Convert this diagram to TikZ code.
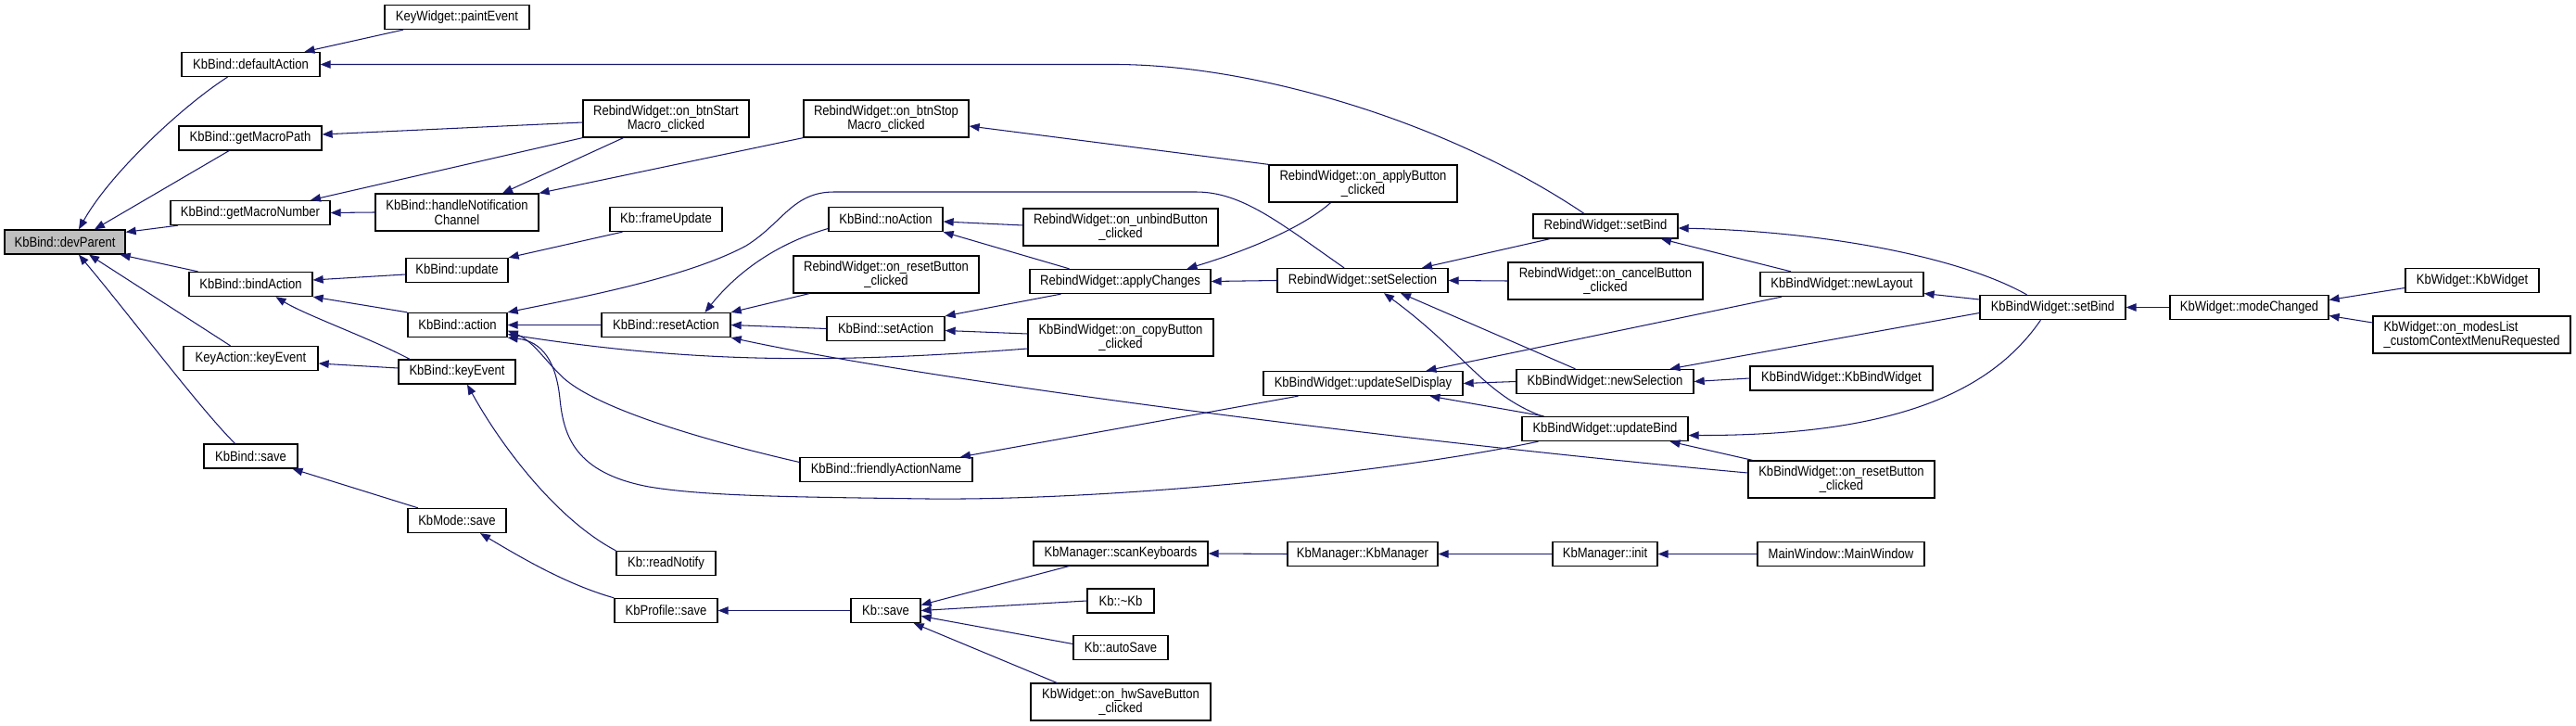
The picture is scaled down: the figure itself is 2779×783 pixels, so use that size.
\documentclass[tikz,border=0pt]{standalone}
\usepackage{fontspec}
\newfontfamily\nodefont{Liberation Sans}[FakeStretch=0.87]
\usetikzlibrary{arrows.meta}
\definecolor{edgeblue}{HTML}{191970}
\definecolor{focusgray}{HTML}{BFBFBF}
\tikzset{
  box/.style={draw=black, line width=1.3pt, fill=white, inner sep=0pt, align=center,
    minimum height=26pt, font={\nodefont\fontsize{15}{15.3}\selectfont}},
  dbl/.style={minimum height=40pt},
  conn/.style={draw=edgeblue, line width=1.05pt, -{Triangle[length=11pt,width=8.5pt]}, edgeblue},
}
\begin{document}
\begin{tikzpicture}[x=1pt,y=-1pt]
\useasboundingbox (0,0) rectangle (2779,783);
% column 1
\node[box, fill=focusgray, minimum width=130] (dp) at (70,261) {KbBind::devParent};
% column 2
\node[box, minimum width=149] (da) at (270.5,69.5) {KbBind::defaultAction};
\node[box, minimum width=154] (gmp) at (270,149) {KbBind::getMacroPath};
\node[box, minimum width=172] (gmn) at (270,229.5) {KbBind::getMacroNumber};
\node[box, minimum width=133] (ba) at (270.5,306.5) {KbBind::bindAction};
\node[box, minimum width=145] (kake) at (270.5,386.5) {KeyAction::keyEvent};
\node[box, minimum width=101] (kbs) at (270.5,492) {KbBind::save};
% column 3
\node[box, minimum width=156] (pe) at (493,18.5) {KeyWidget::paintEvent};
\node[box, dbl, minimum width=176] (hnc) at (493,229) {KbBind::handleNotification\\Channel};
\node[box, minimum width=110] (upd) at (493,291.5) {KbBind::update};
\node[box, minimum width=107] (act) at (493.5,350.5) {KbBind::action};
\node[box, minimum width=126] (kbke) at (493,401) {KbBind::keyEvent};
\node[box, minimum width=106] (kms) at (493,561.5) {KbMode::save};
% column 4
\node[box, dbl, minimum width=179] (bsm) at (718.5,128) {RebindWidget::on\_btnStart\\Macro\_clicked};
\node[box, minimum width=121] (fu) at (718.5,236.5) {Kb::frameUpdate};
\node[box, minimum width=139] (ra) at (718.5,350.5) {KbBind::resetAction};
\node[box, minimum width=107] (rn) at (718.5,607.5) {Kb::readNotify};
\node[box, minimum width=111] (kps) at (718.5,658.5) {KbProfile::save};
% column 5
\node[box, dbl, minimum width=178] (bst) at (956,128) {RebindWidget::on\_btnStop\\Macro\_clicked};
\node[box, minimum width=123] (na) at (955.5,236.5) {KbBind::noAction};
\node[box, dbl, minimum width=200] (rrb) at (956,296) {RebindWidget::on\_resetButton\\\_clicked};
\node[box, minimum width=127] (sa) at (955.5,354.5) {KbBind::setAction};
\node[box, minimum width=186] (fan) at (956,506.5) {KbBind::friendlyActionName};
\node[box, minimum width=75] (ks) at (955.5,658.5) {Kb::save};
% column 6
\node[box, dbl, minimum width=210] (ub) at (1209,245) {RebindWidget::on\_unbindButton\\\_clicked};
\node[box, minimum width=195] (ac) at (1208.5,303.5) {RebindWidget::applyChanges};
\node[box, dbl, minimum width=200] (cb) at (1209,364) {KbBindWidget::on\_copyButton\\\_clicked};
\node[box, minimum width=188] (sk) at (1209,597) {KbManager::scanKeyboards};
\node[box, minimum width=72] (kdk) at (1209,648) {Kb::\textasciitilde Kb};
\node[box, minimum width=102] (as) at (1209,698.5) {Kb::autoSave};
\node[box, dbl, minimum width=194] (hw) at (1209,757) {KbWidget::on\_hwSaveButton\\\_clicked};
% column 7
\node[box, dbl, minimum width=203] (ap) at (1470.5,198) {RebindWidget::on\_applyButton\\\_clicked};
\node[box, minimum width=184] (ss) at (1470,302.5) {RebindWidget::setSelection};
\node[box, minimum width=215] (usd) at (1470.5,413.5) {KbBindWidget::updateSelDisplay};
\node[box, minimum width=162] (kmk) at (1470,597.5) {KbManager::KbManager};
% column 8
\node[box, minimum width=156] (rsb) at (1732,244) {RebindWidget::setBind};
\node[box, dbl, minimum width=210] (cnb) at (1732,303) {RebindWidget::on\_cancelButton\\\_clicked};
\node[box, minimum width=191] (ns) at (1731.5,411.5) {KbBindWidget::newSelection};
\node[box, minimum width=179] (ubd) at (1731.5,462.5) {KbBindWidget::updateBind};
\node[box, minimum width=113] (ki) at (1731.5,597.5) {KbManager::init};
% column 9
\node[box, minimum width=176] (nl) at (1987,306.5) {KbBindWidget::newLayout};
\node[box, minimum width=197] (kbw) at (1986.5,408) {KbBindWidget::KbBindWidget};
\node[box, dbl, minimum width=201] (krb) at (1986.5,517) {KbBindWidget::on\_resetButton\\\_clicked};
\node[box, minimum width=180] (mw) at (1986,597.5) {MainWindow::MainWindow};
% column 10-12
\node[box, minimum width=157] (ksb) at (2214.5,331.5) {KbBindWidget::setBind};
\node[box, minimum width=171] (mc) at (2426.5,331.5) {KbWidget::modeChanged};
\node[box, minimum width=144] (kw) at (2667,302.5) {KbWidget::KbWidget};
\node[box, dbl, minimum width=213, align=left] (ml) at (2666.5,361) {KbWidget::on\_modesList\\\_customContextMenuRequested};

% edges into devParent
\draw[conn] ([xshift=-25]da.south) .. controls (200,112) and (120,185) .. ([xshift=15]dp.north);
\draw[conn] ([xshift=-23]gmp.south) -- ([xshift=32]dp.north);
\draw[conn] ([xshift=-78]gmn.south) -- ([yshift=-3]dp.north east);
\draw[conn] ([xshift=-57]ba.north) -- ([xshift=-6]dp.south east);
\draw[conn] ([xshift=-22]kake.north) -- ([xshift=26]dp.south);
\draw[conn] ([xshift=-17]kbs.north) .. controls (215,440) and (140,340) .. ([xshift=15]dp.south);
% into defaultAction
\draw[conn] ([xshift=-58]pe.south) -- ([xshift=58]da.north);
\draw[conn] ([xshift=-23]rsb.north) .. controls (1560,130) and (1350,69) .. (1200,69.5) -- (da.east);
% into getMacroPath / getMacroNumber / handleNotification
\draw[conn] ([yshift=-4]bsm.west) -- ([yshift=4]gmp.east);
\draw[conn] (bsm.south west) -- ([xshift=65]gmn.north);
\draw[conn] (hnc.west) -- (gmn.east);
\draw[conn] ([xshift=-46]bsm.south) -- ([xshift=49]hnc.north);
\draw[conn] (bst.south west) -- (hnc.north east);
\draw[conn] (ap.north west) -- ([yshift=-8]bst.east);
% into bindAction
\draw[conn] ([yshift=-4.5]upd.west) -- ([yshift=4.5]ba.east);
\draw[conn] (act.north west) -- (ba.south east);
\draw[conn] ([xshift=-51]kbke.north) .. controls (400,365) and (330,340) .. ([xshift=27]ba.south);
% into update, keyEvent
\draw[conn] ([xshift=-47]fu.south) -- (upd.north east);
\draw[conn] ([yshift=4]kbke.west) -- ([yshift=-5.5]kake.east);
\draw[conn] (rn.north west) .. controls (600,560) and (540,480) .. ([xshift=11]kbke.south);
% into action
\draw[conn] (ra.west) -- (act.east);
\draw[conn] ([xshift=-20]ss.north) .. controls (1380,240) and (1340,207) .. (1290,207) -- (900,207)
  .. controls (855,207) and (845,240) .. (805,265) .. controls (740,300) and (620,322) .. (act.north east);
\draw[conn] ([yshift=8]fan.west) .. controls (760,475) and (640,440) .. (605,405)
  .. controls (585,385) and (575,368) .. ([yshift=-6]act.east);
\draw[conn] ([xshift=-72]ubd.south) .. controls (1500,510) and (1200,540) .. (1000,538)
  .. controls (850,536) and (760,535) .. (700,525) .. controls (620,510) and (608,470) .. (604,430)
  .. controls (600,390) and (585,368) .. (act.south east);
\draw[conn] ([yshift=-12]cb.west) .. controls (900,392) and (750,392) .. ([yshift=-10]act.east);
% into resetAction
\draw[conn] ([yshift=-10]na.west) .. controls (830,265) and (790,300) .. ([xshift=42]ra.north);
\draw[conn] ([xshift=-83]rrb.south) -- (ra.north east);
\draw[conn] (sa.west) -- (ra.east);
\draw[conn] ([yshift=7]krb.west) .. controls (1500,475) and (1000,410) .. (ra.south east);
% into noAction, setAction
\draw[conn] ([yshift=2]ub.west) -- ([yshift=-2.5]na.east);
\draw[conn] ([xshift=-55]ac.north) -- (na.south east);
\draw[conn] ([xshift=-64]ac.south) -- (sa.north east);
\draw[conn] ([yshift=4]cb.west) -- ([yshift=-2]sa.east);
% into applyChanges
\draw[conn] (ss.west) -- (ac.east);
\draw[conn] ([xshift=-35]ap.south) .. controls (1400,250) and (1330,275) .. ([xshift=72]ac.north);
% into setSelection
\draw[conn] ([xshift=-60]rsb.south) -- ([xshift=64]ss.north);
\draw[conn] (cnb.west) -- (ss.east);
\draw[conn] ([xshift=-32]ns.north) -- ([xshift=41]ss.south);
\draw[conn] ([xshift=-68]ubd.north) .. controls (1600,425) and (1580,380) .. ([xshift=23]ss.south);
% into RebindWidget::setBind
\draw[conn] ([xshift=-55]nl.north) -- ([xshift=60]rsb.south);
\draw[conn] ([xshift=-28]ksb.north) .. controls (2120,280) and (1980,250) .. ([yshift=-2]rsb.east);
% into updateSelDisplay, friendlyActionName
\draw[conn] ([xshift=-65]nl.south) -- ([xshift=68]usd.north);
\draw[conn] (ns.west) -- (usd.east);
\draw[conn] ([xshift=-66]ubd.north) -- ([xshift=72]usd.south);
\draw[conn] ([xshift=-70]usd.south) -- ([xshift=80]fan.north);
% into newLayout, newSelection, updateBind
\draw[conn] ([yshift=8.5]ksb.west) -- ([yshift=-10]nl.east);
\draw[conn] ([yshift=-6]ksb.west) -- ([xshift=70]ns.north);
\draw[conn] (kbw.west) -- (ns.east);
\draw[conn] ([xshift=-13]ksb.south) .. controls (2150,420) and (2050,470) .. ([yshift=-7]ubd.east);
\draw[conn] ([xshift=-96]krb.north) -- ([xshift=70]ubd.south);
% right part
\draw[conn] (mc.west) -- (ksb.east);
\draw[conn] ([yshift=-8]kw.west) -- ([yshift=8]mc.east);
\draw[conn] ([yshift=13]ml.west) -- ([yshift=-9]mc.east);
% save chain
\draw[conn] ([xshift=-42]kms.north) -- ([xshift=45]kbs.south);
\draw[conn] (kps.north west) .. controls (610,630) and (560,600) .. ([xshift=25]kms.south);
\draw[conn] (ks.west) -- (kps.east);
\draw[conn] ([xshift=-56]sk.south) -- ([yshift=6]ks.east);
\draw[conn] (kdk.west) -- (ks.east);
\draw[conn] ([yshift=4]as.west) -- ([yshift=-6]ks.east);
\draw[conn] ([xshift=-69]hw.north) -- ([xshift=-8]ks.south east);
\draw[conn] (kmk.west) -- (sk.east);
\draw[conn] (ki.west) -- (kmk.east);
\draw[conn] (mw.west) -- (ki.east);
\end{tikzpicture}
\end{document}
